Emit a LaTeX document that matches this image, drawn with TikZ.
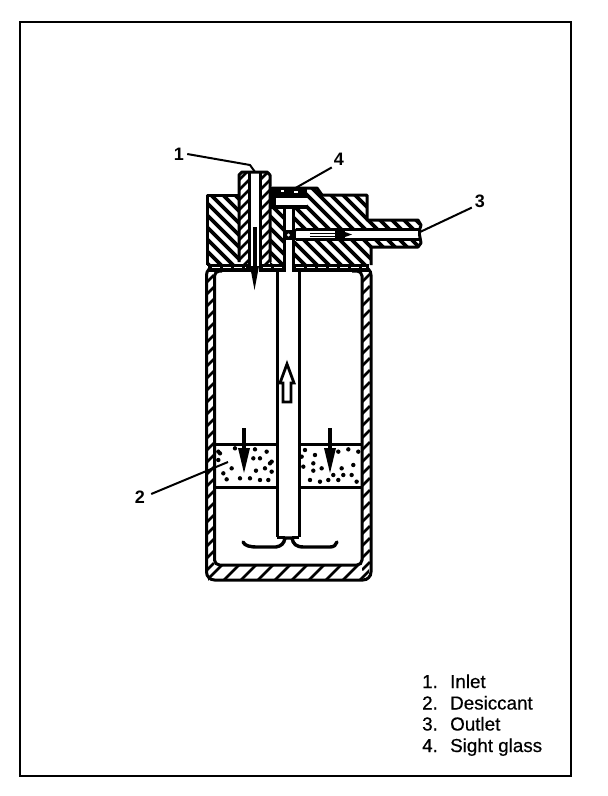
\documentclass[tikz,border=0pt]{standalone}
\usepackage{fontspec}
\setmainfont{Liberation Sans}
\newfontfamily\legfont[FakeBold=0.5]{Liberation Sans}
\tikzset{
 ol/.style={draw=black,line width=3pt},
 hl/.style={draw=black,line width=3.6pt},
 thin hl/.style={draw=black,line width=2.6pt},
 leader/.style={draw=black,line width=2pt},
 lab/.style={font=\fontsize{18}{18}\selectfont\bfseries,inner sep=0pt},
 leg/.style={font=\fontsize{18.8}{18.8}\selectfont\legfont,inner sep=0pt,anchor=base west},
 seam/.style={draw=white,line width=1pt,dash pattern=on 8pt off 3pt},
}
\begin{document}
\begin{tikzpicture}[x=1pt,y=-1pt]
\useasboundingbox (0,0) rectangle (608,796);
\fill[white] (0,0) rectangle (608,796);
\draw[black,line width=2.4pt] (20,22) rectangle (571,776);
% hatching back-slant blocks
\begin{scope}
 \clip (207,195) rectangle (239,265);
 \foreach \i in {-80,-68,...,240} \draw[hl] (\i,180) -- ++(120,120);
\end{scope}
\begin{scope}
 \clip (270,205) rectangle (284,265);
 \foreach \i in {150,162,...,290} \draw[hl] (\i,180) -- ++(120,120);
\end{scope}
\begin{scope}
 \clip (293,207) -- (307,207) -- (307,188) -- (318,188) -- (323,195) -- (367,195) -- (367,220) -- (419,220) -- (419,231) -- (293,231) -- cycle;
 \foreach \i in {160,172,...,420} \draw[hl] (\i,180) -- ++(120,120);
\end{scope}
\begin{scope}
 \clip (293,238) -- (419,238) -- (419,247) -- (371,247) -- (371,265) -- (293,265) -- cycle;
 \foreach \i in {160,172,...,420} \draw[hl] (\i,180) -- ++(120,120);
\end{scope}
% hatching tube walls
\begin{scope}
 \clip (239,172) rectangle (249,264);
 \foreach \i in {170,180,...,300} \draw[thin hl] (239,\i) -- ++(10,-10);
\end{scope}
\begin{scope}
 \clip (260,172) rectangle (270,264);
 \foreach \i in {170,180,...,300} \draw[thin hl] (260,\i) -- ++(10,-10);
\end{scope}
% body wall hatching
\begin{scope}
 \clip (207,272) rectangle (214,572);
 \foreach \i in {270,282,...,590} \draw[thin hl] (207,\i) -- ++(7,-7);
\end{scope}
\begin{scope}
 \clip (362,272) rectangle (370,572);
 \foreach \i in {270,282,...,590} \draw[thin hl] (362,\i) -- ++(8,-8);
\end{scope}
\begin{scope}
 \clip (208,565) rectangle (369,580);
 \foreach \i in {205,222,...,370} \draw[thin hl] (\i,582) -- ++(19,-19);
\end{scope}
% head outline
\draw[ol,line join=round] (239,195) -- (207,195) -- (207,265);
\draw[ol,line join=round] (239,262) -- (239,175) -- (242,172) -- (267,172) -- (270,175) -- (270,262);
\draw[ol] (249,172) -- (249,272);
\draw[ol] (260,172) -- (260,272);
\draw[ol,line join=round] (284,208) -- (284,267);
\draw[ol,line join=round] (293,208) -- (293,267);
\draw[ol,line join=round] (371,265) -- (371,247) -- (418,247) -- (421,243) -- (419,232) -- (421,225) -- (418,220) -- (367,220) -- (367,195) -- (322,195) -- (317,188) -- (272,188);
% body
\draw[ol,rounded corners=8pt] (216,267) -- (206.5,267) -- (206.5,580) -- (371,580) -- (371,267) -- (362,267);
\draw[ol,rounded corners=5pt] (222,271) -- (214.5,271) -- (214.5,565) -- (362,565) -- (362,271) -- (352,271);
% seams under the head
\fill[black] (208,263.5) rectangle (249,272);
\fill[black] (260,263.5) rectangle (285.5,272);
\fill[black] (291.5,263.5) rectangle (369,272);
\draw[seam] (212,267.5) -- (246,267.5);
\draw[seam] (263,267.5) -- (282,267.5);
\draw[seam] (296,267.5) -- (366,267.5);
% sight glass
\fill[black] (270,187) rectangle (307,197.5);
\fill[black] (270,187) rectangle (276,208);
\fill[black] (270,205) rectangle (307,209);
\fill[white] (276,198) rectangle (304,205);
\fill[white] (281,190) rectangle (284,191.5);
\fill[white] (294,191) rectangle (298,192.5);
\fill[white] (285.5,209) rectangle (291.5,230);
\fill[black] (282.5,230) rectangle (296,240);
\fill[white] (288.5,235) circle[radius=1.6pt];
\fill[white] (285.5,240) rectangle (291.5,264);
% outlet bore
\fill[white] (297,231) rectangle (418,238);
\draw[ol] (296,229.8) -- (420,229.8);
\draw[ol] (296,239.2) -- (420,239.2);
\draw[black,line width=1.4pt] (310,233.2) -- (337,233.2);
\draw[black,line width=1.4pt] (310,236.2) -- (337,236.2);
\fill[black] (335,231) rectangle (345,238);
\fill[black] (345,232) -- (352,234.5) -- (345,237) -- cycle;
% inlet arrow
\draw[black,line width=4pt] (254.5,227) -- (254.5,268);
\fill[black] (250,266) -- (259,266) -- (254.5,290) -- cycle;
% centre tube
\draw[ol] (277,270) -- (277,537);
\draw[ol] (299,270) -- (299,537);
% baffle
\draw[black,line width=3.4pt,line cap=round] (243,542) .. controls (245,546) and (250,547) .. (258,547) -- (276,547) .. controls (281,546) and (284,544) .. (285,538) -- (292,538) .. controls (293,544) and (296,547) .. (304,547) -- (330,547) .. controls (334,547) and (336,545) .. (337,542);
\draw[ol] (277,537) -- (285,537);
\draw[ol] (292,537) -- (299,537);
% hollow arrow
\draw[black,line width=2.8pt,line join=miter,fill=white] (287,364) -- (294,383) -- (291,383) -- (291,402) -- (283,402) -- (283,383) -- (280,383) -- cycle;
% desiccant
\draw[ol] (214,444) -- (277,444);
\draw[ol] (299,444) -- (362,444);
\draw[ol] (214,487.5) -- (277,487.5);
\draw[ol] (299,487.5) -- (362,487.5);
\begin{scope}[shift={(120,400)},x=0.3333pt,y=-0.3333pt]
 \foreach \a/\b in {295/155,345/145,405/148,440/155,400/175,420/175,455/185,295/180,310/220,335/205,408/212,435/205,455/215,320/238,360/235,390/235,420/240,445/240,300/160,450/190,555/150,585/165,655/155,685/148,715/155,545/170,580/190,550/200,605/205,580/212,665/205,700/195,640/225,670/225,570/240,600/245,625/240,655/240,695/225,710/245}
  \fill[black] (\a,\b) circle[radius=2.2pt];
\end{scope}
\draw[black,line width=3.8pt] (244,428) -- (244,455);
\fill[black] (238,448) -- (250,448) -- (244,473) -- cycle;
\draw[black,line width=3.8pt] (330,428) -- (330,455);
\fill[black] (324,448) -- (336,448) -- (330,473) -- cycle;
% labels
\node[lab] (n1) at (179,154) {1};
\node[lab] (n4) at (339,159) {4};
\node[lab] (n3) at (480,201) {3};
\node[lab] (n2) at (140,497) {2};
\coordinate (c1) at (255,172);
\coordinate (k1) at (250,165);
\coordinate (c4) at (292,190);
\coordinate (c3) at (420,232);
\coordinate (c2) at (228,462);
\draw[leader] (n1.east)++(3,0) -- (k1) -- (c1);
\draw[leader] (n4.south west)++(-2,2) -- (c4);
\draw[leader] (n3.south west)++(-3,0) -- (c3);
\draw[leader] (n2.east)++(6,-3) -- (c2);
% legend
\node[leg] (l1a) at (422,688) {1.};
\node[leg] (l1b) at (450,688) {Inlet};
\node[leg] (l2a) at (422,709.5) {2.};
\node[leg] (l2b) at (450,709.5) {Desiccant};
\node[leg] (l3a) at (422,730.5) {3.};
\node[leg] (l3b) at (450,730.5) {Outlet};
\node[leg] (l4a) at (422,752) {4.};
\node[leg] (l4b) at (450,752) {Sight glass};
\end{tikzpicture}
\end{document}
